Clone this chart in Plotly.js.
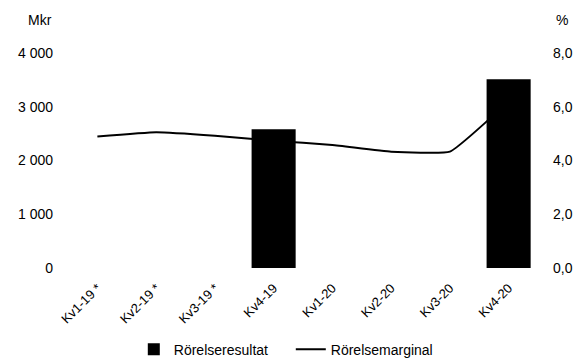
<!DOCTYPE html>
<html>
<head>
<meta charset="utf-8">
<script src="https://cdn.plot.ly/plotly-3.0.1.min.js"></script>
<style>
  html, body { margin: 0; padding: 0; background: #fff; }
  #chart { width: 579px; height: 360px; }
</style>
</head>
<body>
<div id="chart"></div>
<script>
// Quarterly operating result (MSEK) and operating margin (%)
const quarters = ['Kv1-19 *', 'Kv2-19 *', 'Kv3-19 *', 'Kv4-19', 'Kv1-20', 'Kv2-20', 'Kv3-20', 'Kv4-20'];
const rorelseresultat = [null, null, null, 2580, null, null, null, 3510];
const rorelsemarginal = [4.89, 5.05, 4.92, 4.73, 4.58, 4.33, 4.33, 6.2];
const leftTicks = [0, 1000, 2000, 3000, 4000];
const leftTickText = ['0', '1 000', '2 000', '3 000', '4 000'];
const rightTicks = [0, 2, 4, 6, 8];
const rightTickText = ['0,0', '2,0', '4,0', '6,0', '8,0'];

const FONT = 'Liberation Sans, Arial, sans-serif';

const traces = [
  {
    type: 'scatter',
    mode: 'lines',
    name: 'Rörelsemarginal',
    x: quarters,
    y: rorelsemarginal,
    yaxis: 'y2',
    line: { color: '#000', width: 2, shape: 'spline', smoothing: 0.35 },
    hoverinfo: 'skip'
  },
  {
    type: 'bar',
    name: 'Rörelseresultat',
    x: quarters,
    y: rorelseresultat,
    marker: { color: '#000' },
    width: 0.75,
    hoverinfo: 'skip'
  }
];

const layout = {
  width: 579,
  height: 360,
  margin: { l: 68, r: 41, t: 53, b: 92, autoexpand: false },
  paper_bgcolor: '#fff',
  plot_bgcolor: '#fff',
  font: { family: FONT, size: 14, color: '#000' },
  showlegend: true,
  legend: {
    orientation: 'h',
    x: 0.14, xanchor: 'left',
    y: -0.38, yanchor: 'middle',
    traceorder: 'reversed',
    entrywidth: 112,
    font: { family: FONT, size: 14, color: '#000' }
  },
  xaxis: {
    type: 'category',
    range: [-0.5, 7.5],
    tickangle: -45,
    showgrid: false,
    zeroline: false,
    showline: false,
    ticks: '',
    tickfont: { family: FONT, size: 13 },
    ticklabelstandoff: 9
  },
  yaxis: {
    range: [0, 4000],
    tickvals: leftTicks,
    ticktext: leftTickText,
    showgrid: false,
    zeroline: false,
    showline: false,
    ticks: '',
    ticklabelstandoff: 14,
    tickfont: { family: FONT, size: 14 }
  },
  yaxis2: {
    overlaying: 'y',
    side: 'right',
    range: [0, 8],
    tickvals: rightTicks,
    ticktext: rightTickText,
    showgrid: false,
    zeroline: false,
    showline: false,
    ticks: '',
    ticklabelstandoff: 14,
    tickfont: { family: FONT, size: 14 }
  },
  annotations: [
    { text: 'Mkr', xref: 'paper', yref: 'paper', x: -0.03, y: 1.155, xanchor: 'right', yanchor: 'middle', showarrow: false, font: { family: FONT, size: 14 } },
    { text: '%', xref: 'paper', yref: 'paper', x: 1.035, y: 1.155, xanchor: 'left', yanchor: 'middle', showarrow: false, font: { family: FONT, size: 14 } }
  ]
};

Plotly.newPlot('chart', traces, layout, { staticPlot: true, displayModeBar: false });
</script>
</body>
</html>
